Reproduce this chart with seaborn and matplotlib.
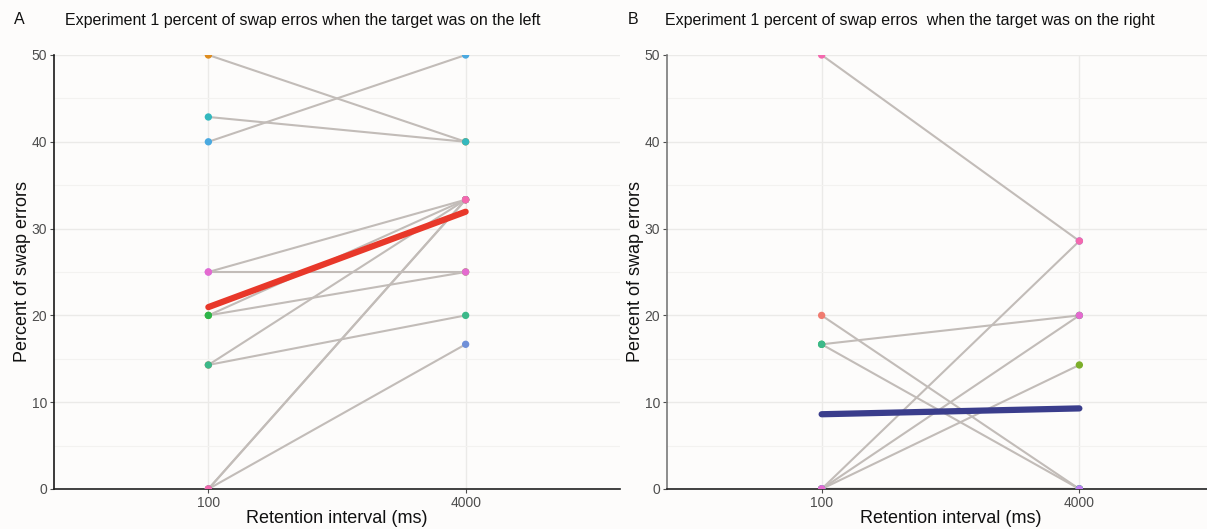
import matplotlib
matplotlib.use("Agg")
import matplotlib.pyplot as plt
from matplotlib.ticker import MultipleLocator
import numpy as np
import pandas as pd
import seaborn as sns

# Retention intervals (ms) shown on the x axis
intervals = ["100", "4000"]
subjects = [f"S{i}" for i in range(1, 13)]

# Percent of swap errors per participant, target on the left
left_100 = [14.29, 50, 0, 20, 20, 14.29, 42.86, 40, 0, 25, 25, 0]
left_4000 = [33.33, 40, 33.33, 25, 33.33, 20, 40, 50, 16.67, 33.33, 25, 33.33]

# Percent of swap errors per participant, target on the right
right_100 = [20, 0, 0, 0, 16.67, 16.67, 0, 0, 0, 0, 0, 50]
right_4000 = [0, 0, 0, 14.29, 20, 0, 0, 0, 28.57, 0, 20, 28.57]

titles = ["Experiment 1 percent of swap erros when the target was on the left",
          "Experiment 1 percent of swap erros  when the target was on the right"]
panel_letters = ["A", "B"]
mean_colors = ["#E8382A", "#3A3D8C"]

subject_palette = ["#F07B70", "#DE8C1E", "#B79F2A", "#7CAE2A", "#2DB54A", "#3CB98A",
                   "#34B8BE", "#4AA9E0", "#7090D8", "#C07CF0", "#E46AD0", "#F468AE"]


def long_table(v100, v4000):
    rows = []
    for s, a, b in zip(subjects, v100, v4000):
        rows.append({"subject": s, "interval": intervals[0], "pct": a})
        rows.append({"subject": s, "interval": intervals[1], "pct": b})
    df = pd.DataFrame(rows)
    df["pos"] = df["interval"].map({k: i for i, k in enumerate(intervals)})
    return df


sns.set_theme(style="white")
plt.rcParams["font.family"] = ["Liberation Sans", "DejaVu Sans"]

fig = plt.figure(figsize=(12.07, 5.29), dpi=100, facecolor="#FDFCFB")
W, H = 1207, 529
ax_left = fig.add_axes([54 / W, 40 / H, 566 / W, 434 / H])
ax_right = fig.add_axes([667 / W, 40 / H, 567 / W, 434 / H])

datasets = [long_table(left_100, left_4000), long_table(right_100, right_4000)]
yaxis_colors = ["#1a1a1a", "#7a7a7a"]

for k, (ax, df) in enumerate(zip([ax_left, ax_right], datasets)):
    ax.set_facecolor("#FDFCFB")
    ax.yaxis.set_major_locator(MultipleLocator(10))
    ax.yaxis.set_minor_locator(MultipleLocator(5))
    ax.grid(True, which="major", color="#EBEAE8", linewidth=1.0)
    ax.grid(True, which="minor", axis="y", color="#F3F2F0", linewidth=0.8)
    ax.set_axisbelow(True)

    # individual participants
    sns.lineplot(data=df, x="pos", y="pct", units="subject", estimator=None,
                 color="#C2BCB8", linewidth=1.5, ax=ax, legend=False, zorder=2)
    # mean across participants
    sns.lineplot(data=df, x="pos", y="pct", estimator="mean", errorbar=None,
                 color=mean_colors[k], linewidth=4.5, ax=ax, legend=False, zorder=3)
    sns.scatterplot(data=df, x="pos", y="pct", hue="subject", palette=subject_palette,
                    s=28, edgecolor="none", ax=ax, legend=False, zorder=4)

    ax.set_xlim(-0.6, 1.6)
    ax.set_ylim(0, 50)
    ax.set_xticks([0, 1])
    ax.set_xticklabels(intervals)
    ax.set_xlabel("Retention interval (ms)", fontsize=13, color="#111111", labelpad=0)
    ax.set_ylabel("Percent of swap errors", fontsize=13, color="#111111", labelpad=0)
    ax.tick_params(axis="both", which="major", labelsize=10, colors="#4d4d4d",
                   length=3, width=0.8, pad=2, left=True, bottom=True)
    ax.tick_params(axis="y", which="minor", length=0)

    for side in ["top", "right"]:
        ax.spines[side].set_visible(False)
    ax.spines["left"].set_color(yaxis_colors[k])
    ax.spines["left"].set_linewidth(1.2)
    ax.spines["bottom"].set_color("#222222")
    ax.spines["bottom"].set_linewidth(1.2)

title_kw = dict(fontsize=11.5, va="center", ha="left", color="#111111")
fig.text(14 / W, 1 - 20 / H, panel_letters[0], **title_kw)
fig.text(65 / W, 1 - 20 / H, titles[0], **title_kw)
fig.text(628 / W, 1 - 20 / H, panel_letters[1], **title_kw)
fig.text(665 / W, 1 - 20 / H, titles[1], **title_kw)

fig.savefig("out.png", dpi=100, facecolor=fig.get_facecolor())
